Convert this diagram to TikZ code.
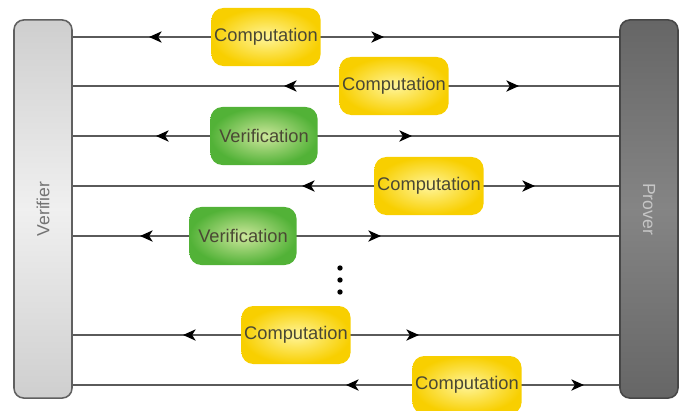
\documentclass[tikz,border=0pt]{standalone}
\usepackage{fontspec}
\setmainfont{Liberation Sans}
\usetikzlibrary{arrows.meta}

\definecolor{compin}{HTML}{FFF59A}
\definecolor{compout}{HTML}{F8CF00}
\definecolor{verin}{HTML}{CDE79C}
\definecolor{verout}{HTML}{52B237}
\definecolor{wiregray}{HTML}{5A5A5A}
\definecolor{boxtext}{HTML}{4A4834}

\begin{document}
\begin{tikzpicture}[
	x=0.025cm, y=-0.025cm,
	party/.style={
		rectangle,
		rounded corners=7pt,
		line width=1.1pt,
		minimum width=1.45cm,
		minimum height=9.45cm,
		inner sep=0pt
	},
	verifierbar/.style={
		party,
		draw=gray!75!black,
		top color=gray!38,
		bottom color=gray!38,
		middle color=gray!12
	},
	proverbar/.style={
		party,
		draw=black!72,
		top color=black!60,
		bottom color=black!60,
		middle color=black!48
	},
	partytext/.style={font=\fontsize{12.5}{14}\selectfont},
	step box/.style={
		rectangle,
		rounded corners=8.5pt,
		minimum width=2.68cm,
		minimum height=1.45cm,
		inner sep=2pt,
		text=boxtext,
		font=\fontsize{13}{15}\selectfont
	},
	compbox/.style={
		step box,
		inner color=compin,
		outer color=compout
	},
	verifbox/.style={
		step box,
		inner color=verin,
		outer color=verout
	},
	wire/.style={line width=1.2pt,wiregray},
	msg/.style={line width=1.2pt,wiregray,-{Stealth[length=9pt,width=8pt,inset=2.5pt,black]}},
	dot/.style={circle,fill=black,inner sep=0pt,minimum size=3.8pt}
]
\useasboundingbox (0,0) rectangle (686,410);

% Parties
\node[verifierbar] (verifier) at (43,209) {};
\node[proverbar] (prover) at (649,209) {};
\node[partytext,rotate=90,text=gray!90!black] (vtext) at (verifier) {Verifier};
\node[partytext,rotate=-90,text=gray!45] (ptext) at (prover) {Prover};

% Rows
\coordinate (r1) at (0,37);
\coordinate (r2) at (0,86);
\coordinate (r3) at (0,136);
\coordinate (r4) at (0,186);
\coordinate (r5) at (0,236);
\coordinate (r6) at (0,335);
\coordinate (r7) at (0,385);

\foreach \r in {r1,r2,r3,r4,r5,r6,r7}
	\draw[wire] (verifier.east |- \r) -- (prover.west |- \r);

% Steps
\node[compbox] (c1) at (266,37) {Computation};
\node[compbox] (c2) at (394,86) {Computation};
\node[verifbox] (v3) at (264,136) {Verification};
\node[compbox] (c4) at (429,186) {Computation};
\node[verifbox] (v5) at (243,236) {Verification};
\node[compbox] (c6) at (296,335) {Computation};
\node[compbox] (c7) at (467,385) {Computation};

% Ellipsis
\node[dot] (d1) at (340,268) {};
\node[dot] (d2) at (340,280) {};
\node[dot] (d3) at (340,292) {};

% Arrow tips
\coordinate (c1l) at (149,37);  \coordinate (c1r) at (384,37);
\coordinate (c2l) at (284,86);  \coordinate (c2r) at (519,86);
\coordinate (v3l) at (156,136); \coordinate (v3r) at (412,136);
\coordinate (c4l) at (302,186); \coordinate (c4r) at (535,186);
\coordinate (v5l) at (140,236); \coordinate (v5r) at (381,236);
\coordinate (c6l) at (183,335); \coordinate (c6r) at (419,335);
\coordinate (c7l) at (346,385); \coordinate (c7r) at (584,385);

\foreach \s in {c1,c2,v3,c4,v5,c6,c7} {
	\draw[msg] (\s) -- (\s l);
	\draw[msg] (\s) -- (\s r);
}

\end{tikzpicture}
\end{document}
